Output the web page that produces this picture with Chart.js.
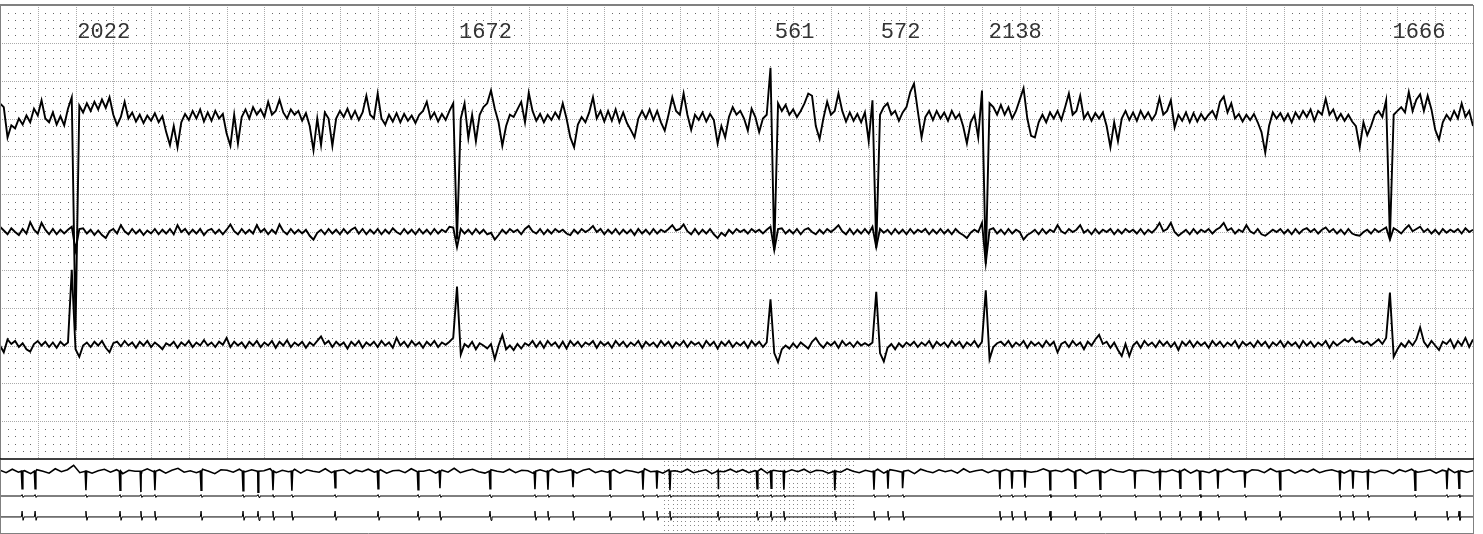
<!DOCTYPE html>
<html>
<head>
<meta charset="utf-8">
<script src="https://cdn.jsdelivr.net/npm/chart.js@4.4.0/dist/chart.umd.min.js"></script>
<style>
  html, body { margin: 0; padding: 0; background: #fff; }
  #wrap { position: relative; width: 1483px; height: 534px; }
  #ecg { position: absolute; left: 0; top: 0; }
  #strip { position: absolute; left: 0; top: 460px; }
</style>
</head>
<body>
<div id="wrap">
  <canvas id="ecg" width="1483" height="460"></canvas>
  <canvas id="strip" width="1483" height="74"></canvas>
</div>
<script>
// ---- main window: 7.8 s of three leads, one sample every 20 ms ----
var stepMs = 20;
var windowMs = 7800;
var firstBeatMs = 388;
// RR intervals written above each beat (ms)
var rrMs = [2022, 1672, 561, 572, 2138, 1666];
// where each lead sits on the paper (mV)
var leadBase = [4.5, 3.0, 1.5];

// lead values in mV (relative to the lead baseline)
var lead1 = [
  0.20, 0.15, -0.25, -0.09, -0.13, 0.0, -0.08, 0.04, -0.05, 0.13,
  0.04, 0.24, 0.0, -0.05, 0.08, -0.08, 0.03, -0.09, 0.13, 0.28,
  -2.8, 0.17, 0.08, 0.2, 0.1, 0.22, 0.12, 0.25, 0.14, 0.28,
  0.05, -0.09, 0.02, 0.22, 0.0, 0.08, -0.04, 0.05, -0.06, 0.04,
  -0.03, 0.07, -0.05, 0.03, -0.18, -0.35, -0.1, -0.38, -0.05, 0.06,
  -0.02, 0.1, 0.0, 0.12, -0.04, 0.08, -0.03, 0.1, 0.0, 0.06,
  -0.2, -0.36, 0.05, -0.33, 0.02, 0.12, 0.0, 0.15, 0.05, 0.12,
  0.02, 0.22, 0.05, 0.1, 0.25, 0.08, 0.0, 0.12, 0.05, 0.1,
  -0.03, 0.07, -0.1, -0.42, 0.0, -0.35, 0.08, 0.0, -0.36, 0.0,
  0.1, 0.02, 0.13, 0.0, 0.1, -0.02, 0.08, 0.3, 0.05, 0.0,
  0.33, 0.0, -0.08, 0.05, -0.04, 0.07, -0.05, 0.06, -0.03, 0.04,
  -0.06, 0.05, 0.1, 0.22, 0.0, 0.08, -0.04, 0.06, -0.02, 0.1,
  0.2, -1.6, 0.0, 0.2, -0.26, 0.05, -0.3, 0.05, 0.15, 0.2,
  0.37, 0.13, -0.05, -0.36, -0.1, 0.05, 0.02, 0.12, 0.22, -0.05,
  0.34, 0.1, -0.03, 0.06, -0.05, 0.05, -0.02, 0.08, 0.0, 0.2,
  0.0, -0.25, -0.38, -0.08, 0.02, -0.05, 0.08, 0.28, 0.0, 0.1,
  -0.04, 0.1, -0.03, 0.12, -0.05, 0.08, -0.06, -0.15, -0.25, 0.0,
  0.1, 0.0, 0.12, -0.02, 0.1, -0.05, -0.16, 0.05, 0.28, 0.1,
  0.05, 0.33, 0.05, -0.15, 0.05, -0.02, 0.08, -0.04, 0.06, -0.02,
  -0.33, -0.1, -0.25, 0.02, 0.15, 0.05, 0.1, 0.0, -0.16, 0.13,
  0.02, -0.18, 0.0, 0.05, 0.67, -1.74, 0.2, 0.1, 0.18, 0.05,
  0.12, 0.02, 0.1, 0.2, 0.33, 0.3, -0.1, -0.27, 0.0, 0.22,
  0.05, 0.1, 0.33, 0.1, -0.04, 0.08, -0.03, 0.06, -0.05, 0.08,
  -0.3, 0.24, -1.71, 0.05, 0.15, 0.2, 0.05, 0.1, -0.03, 0.08,
  0.15, 0.35, 0.46, 0.1, -0.25, 0.02, 0.1, -0.02, 0.1, 0.0,
  0.08, -0.03, 0.1, 0.0, 0.06, -0.1, -0.33, -0.05, 0.05, -0.25,
  0.37, -1.92, 0.2, 0.15, 0.05, 0.18, 0.05, 0.15, 0.0, 0.1,
  0.25, 0.4, 0.0, -0.23, -0.25, -0.05, 0.05, -0.05, 0.08, 0.0,
  0.1, -0.02, 0.15, 0.33, 0.05, 0.1, 0.3, 0.0, 0.08, -0.03,
  0.07, 0.0, 0.08, -0.1, -0.38, -0.05, -0.3, 0.0, 0.1, -0.02,
  0.08, -0.03, 0.1, 0.0, 0.08, -0.02, 0.06, 0.27, 0.05, 0.1,
  0.24, -0.12, 0.05, -0.03, 0.08, -0.05, 0.07, -0.04, 0.06, -0.02,
  0.05, 0.1, 0.0, 0.22, 0.29, 0.08, 0.2, 0.0, 0.06, -0.04,
  0.05, -0.02, 0.06, -0.05, -0.18, -0.45, -0.1, 0.08, 0.0, 0.07,
  -0.03, 0.06, -0.05, 0.08, 0.0, 0.1, 0.02, 0.12, -0.03, 0.1,
  0.05, 0.26, 0.05, 0.12, -0.02, 0.06, -0.03, 0.05, -0.04, -0.1,
  -0.38, -0.05, -0.22, -0.1, 0.05, 0.1, 0.02, 0.24, -1.59, 0.05,
  0.1, 0.15, 0.08, 0.35, 0.1, 0.25, 0.32, 0.1, 0.3, 0.12,
  -0.15, -0.28, -0.05, 0.05, -0.02, 0.1, 0.0, 0.2, 0.02, 0.1, -0.1
];

var lead2 = [
  0.07, 0.02, -0.03, 0.05, 0.0, -0.04, 0.04, -0.02, 0.13, 0.03,
  -0.02, 0.12, 0.03, -0.03, 0.04, -0.03, 0.03, -0.02, 0.03, 0.07,
  -0.24, 0.04, 0.05, -0.02, 0.03, -0.04, 0.02, -0.04, -0.08, 0.01,
  0.04, -0.02, 0.09, 0.01, -0.03, 0.04, -0.02, 0.03, -0.04, 0.02,
  -0.02, 0.04, -0.03, 0.03, -0.02, 0.04, -0.03, 0.09, 0.0, 0.04,
  -0.03, 0.03, -0.02, 0.04, -0.04, 0.02, 0.04, -0.02, 0.03, -0.03,
  0.03, 0.1, 0.01, -0.03, 0.04, -0.02, 0.03, -0.02, 0.09, 0.0,
  0.04, -0.03, 0.03, -0.02, 0.1, 0.01, -0.03, 0.04, -0.02, 0.03,
  -0.02, 0.03, -0.05, -0.1, -0.01, 0.03, -0.03, 0.04, -0.02, 0.03,
  -0.03, 0.04, -0.02, 0.03, 0.06, -0.02, 0.04, -0.03, 0.03, -0.02,
  0.04, -0.03, 0.03, -0.02, 0.05, 0.0, -0.03, 0.04, -0.02, 0.03,
  -0.03, 0.04, -0.02, 0.03, -0.03, 0.04, -0.02, 0.03, 0.0, 0.07,
  0.06, -0.2, 0.04, -0.02, 0.03, -0.03, 0.04, -0.02, 0.03, -0.03,
  -0.01, -0.1, -0.04, 0.03, -0.02, 0.04, 0.0, 0.03, -0.03, 0.04,
  0.08, 0.01, -0.02, 0.04, -0.03, 0.03, -0.02, 0.04, 0.0, 0.03,
  -0.02, -0.04, 0.03, -0.02, 0.04, 0.0, 0.03, 0.08, 0.0, 0.04,
  -0.03, 0.03, -0.02, 0.04, -0.03, 0.03, -0.02, 0.03, -0.04, 0.04,
  -0.02, 0.03, -0.03, 0.04, -0.02, 0.03, 0.0, 0.04, 0.09, 0.02,
  0.04, 0.1, 0.01, -0.03, 0.04, -0.03, 0.03, -0.02, 0.04, -0.03,
  -0.08, -0.01, -0.05, 0.03, -0.02, 0.04, 0.0, 0.03, -0.02, 0.04,
  0.0, 0.03, -0.02, 0.03, 0.07, -0.24, 0.04, 0.05, -0.02, 0.03,
  -0.02, 0.04, -0.03, 0.03, 0.05, 0.0, -0.03, 0.03, -0.02, 0.04,
  0.0, 0.04, 0.09, 0.01, -0.03, 0.04, -0.03, 0.03, -0.02, 0.04,
  -0.02, 0.07, -0.2, 0.04, -0.01, 0.03, -0.03, 0.04, -0.02, 0.03,
  -0.03, 0.04, -0.02, 0.03, 0.0, 0.04, -0.03, 0.03, -0.02, 0.04,
  -0.02, 0.03, -0.03, 0.04, -0.01, -0.04, -0.08, -0.01, 0.03, 0.0,
  0.12, -0.41, 0.03, 0.05, -0.02, 0.03, -0.03, 0.04, -0.02, 0.03,
  0.0, -0.1, -0.04, -0.01, 0.03, -0.03, 0.04, -0.02, 0.03, 0.0,
  0.09, 0.01, -0.02, 0.04, 0.0, 0.03, 0.09, -0.01, 0.03, -0.03,
  0.04, -0.02, 0.03, 0.0, 0.04, -0.03, 0.03, -0.02, 0.04, 0.0,
  0.03, -0.02, 0.04, -0.03, 0.03, -0.01, 0.04, 0.12, 0.01, 0.04,
  0.12, 0.0, -0.05, -0.01, 0.03, -0.03, 0.04, -0.02, 0.03, 0.0,
  0.04, -0.02, 0.03, 0.06, 0.12, 0.02, 0.05, -0.02, 0.03, 0.0,
  0.09, 0.01, -0.02, 0.04, -0.03, -0.05, -0.01, 0.03, 0.0, 0.04,
  -0.02, 0.03, -0.03, 0.04, -0.02, 0.03, 0.05, 0.0, 0.04, -0.02,
  0.03, 0.06, 0.0, 0.04, -0.02, 0.03, -0.03, 0.04, -0.02, -0.04,
  -0.05, 0.0, 0.03, -0.02, 0.04, 0.0, 0.03, 0.06, -0.1, 0.05,
  0.02, -0.02, 0.04, 0.09, 0.01, 0.04, 0.07, 0.0, 0.04, -0.02,
  0.03, -0.03, 0.04, -0.01, 0.03, 0.0, 0.04, -0.02, 0.05, 0.0, 0.03
];

var lead3 = [
  0.0, -0.09, 0.08, 0.02, 0.06, -0.02, 0.03, -0.05, -0.08, 0.02,
  0.06, 0.0, 0.05, -0.02, 0.04, -0.03, 0.05, 0.0, 0.04, 1.0,
  -0.05, -0.15, 0.0, 0.04, -0.02, 0.05, 0.0, 0.06, -0.03, -0.09,
  0.03, 0.05, -0.01, 0.06, 0.0, 0.04, -0.03, 0.05, 0.0, 0.06,
  -0.02, 0.04, 0.0, -0.05, 0.03, 0.0, 0.05, -0.03, 0.04, 0.0,
  0.06, -0.02, 0.04, 0.0, 0.07, 0.0, 0.04, -0.02, 0.05, 0.01,
  0.1, -0.02, 0.05, 0.0, 0.04, -0.03, 0.05, 0.0, 0.06, -0.02,
  0.04, 0.0, 0.06, -0.03, 0.05, 0.0, 0.07, -0.02, 0.04, 0.0,
  0.05, -0.03, 0.04, 0.0, 0.06, 0.12, 0.02, 0.06, -0.02, 0.05,
  0.0, 0.04, -0.04, 0.05, 0.0, 0.06, -0.03, 0.04, 0.0, 0.05,
  -0.02, 0.06, 0.0, 0.04, -0.03, 0.1, 0.0, 0.05, -0.02, 0.06,
  0.0, 0.04, -0.03, 0.05, 0.0, 0.06, -0.02, 0.04, 0.01, 0.05,
  0.1, 0.78, -0.12, 0.02, -0.02, 0.05, -0.05, 0.03, 0.0, -0.04,
  0.02, -0.18, 0.0, 0.14, -0.05, 0.0, -0.06, 0.02, -0.04, 0.03,
  0.0, 0.06, -0.02, 0.05, -0.03, 0.06, 0.0, 0.04, -0.03, 0.05,
  -0.04, 0.06, 0.0, 0.05, -0.02, 0.04, 0.01, 0.06, -0.03, 0.05,
  0.0, 0.04, -0.03, 0.06, 0.0, 0.05, -0.02, 0.04, 0.0, 0.06,
  -0.03, 0.05, 0.0, 0.04, -0.02, 0.06, 0.0, 0.05, -0.03, 0.04,
  0.0, 0.06, -0.02, 0.05, 0.01, 0.04, -0.03, 0.06, 0.0, 0.05,
  -0.04, 0.05, 0.0, 0.06, -0.02, 0.04, 0.0, 0.05, -0.03, 0.06,
  0.0, 0.05, -0.02, 0.04, 0.61, -0.1, -0.22, -0.05, 0.0, -0.04,
  0.03, -0.03, 0.04, 0.0, -0.04, 0.05, 0.1, 0.02, -0.03, 0.04,
  0.0, 0.05, -0.03, 0.06, 0.0, 0.04, -0.02, 0.05, 0.0, 0.03,
  0.0, 0.04, 0.71, -0.1, -0.21, -0.03, 0.02, -0.05, 0.03, -0.02,
  0.04, 0.0, 0.05, -0.02, 0.04, 0.0, 0.06, -0.03, 0.05, 0.0,
  0.04, -0.02, 0.06, 0.0, 0.05, -0.03, 0.04, 0.0, 0.06, -0.02,
  0.05, 0.73, -0.18, -0.02, 0.03, 0.05, 0.0, 0.06, -0.02, 0.04,
  0.0, 0.06, -0.03, 0.05, 0.0, 0.04, -0.02, 0.06, 0.0, 0.05,
  -0.09, 0.02, 0.05, -0.02, 0.06, 0.0, 0.04, -0.05, 0.05, 0.0,
  0.08, 0.14, 0.02, 0.05, -0.03, 0.04, -0.06, -0.14, 0.02, -0.14,
  0.0, 0.05, -0.03, 0.06, 0.0, 0.04, -0.02, 0.06, 0.0, 0.05,
  -0.02, 0.04, -0.06, 0.05, 0.0, 0.06, -0.02, 0.05, 0.0, 0.04,
  -0.03, 0.06, 0.0, 0.05, -0.02, 0.04, 0.0, 0.06, -0.03, 0.05,
  0.0, 0.04, -0.02, 0.06, 0.0, 0.05, -0.03, 0.04, 0.0, 0.06,
  -0.02, 0.05, 0.0, 0.04, -0.03, 0.06, 0.0, 0.05, -0.02, 0.04,
  0.0, 0.06, -0.03, 0.05, 0.0, 0.04, 0.08, 0.05, 0.1, 0.04,
  0.06, 0.02, 0.05, 0.0, 0.04, 0.08, 0.02, 0.1, 0.7, -0.15,
  -0.05, 0.03, -0.02, 0.06, 0.0, 0.08, 0.24, 0.05, -0.02, 0.06,
  0.0, -0.06, 0.05, 0.02, 0.08, -0.03, 0.06, 0.0, 0.1, -0.02, 0.08
];

// ---- overview strip: 60 s, window of the main view highlighted ----
var stripSec = 60;
var stripWindow = [27.05, 34.85];
var stripBase = [12.7, 7.6, 3.3];
// beat times on the strip (s) and depth of the top-trace spike
var stripBeats = [0.90, 1.43, 3.50, 4.89, 5.74, 6.31, 8.19, 9.90, 10.51, 11.12,
  11.89, 13.65, 15.40, 17.03, 17.92, 19.96, 21.79, 22.32, 23.34, 24.85,
  26.19, 26.76, 27.29, 29.25, 30.84, 31.41, 31.93, 34.01, 35.60, 36.17,
  36.78, 40.73, 41.22, 41.75, 42.77, 43.79, 44.81, 46.23, 47.25, 48.07,
  48.88, 49.61, 50.71, 52.14, 54.58, 55.11, 55.72, 57.64, 58.94, 59.43];
var stripDrop = [3.6, 3.6, 3.9, 3.9, 4.3, 3.9, 3.9, 4.0, 4.3, 3.9,
  4.0, 3.4, 3.6, 3.8, 3.5, 3.6, 3.7, 3.8, 3.3, 3.7,
  3.8, 3.6, 3.9, 3.7, 3.6, 3.5, 3.8, 3.9, 3.8, 3.6,
  3.5, 3.7, 3.6, 3.4, 3.8, 3.5, 3.7, 3.6, 3.9, 3.5,
  3.7, 3.6, 3.4, 3.8, 3.9, 3.6, 3.8, 3.9, 3.7, 3.5];
var stripUp = 1.2;
var stripDown = 0.7;
var stripMidTick = 0.3;
// top-trace jitter, every 0.25 s
var stripNoise = [
  0.2,-0.3,0.4,-0.2,0.1,-0.5,0.3,0.0,-0.4,0.5,-0.1,0.3,1.2,-0.3,0.2,-0.4,0.1,0.4,-0.2,0.3,
  -0.5,0.2,0.0,-0.3,0.5,-0.1,0.3,-0.4,0.2,0.6,-0.2,0.1,-0.3,0.4,0.0,-0.5,0.3,0.2,-0.2,0.4,
  -0.1,0.3,-0.4,0.1,0.5,-0.3,0.2,-0.1,0.4,-0.4,0.3,0.0,-0.2,0.5,-0.3,0.1,0.3,-0.5,0.2,-0.1,
  0.4,-0.2,0.3,-0.4,0.1,0.2,-0.3,0.5,-0.1,0.0,0.3,-0.4,0.2,-0.2,0.6,-0.3,0.1,0.4,-0.1,-0.4,
  0.3,0.0,-0.2,0.4,-0.3,0.2,0.1,-0.5,0.3,-0.1,0.4,-0.2,0.0,0.3,-0.4,0.2,0.5,-0.3,0.1,-0.2,
  0.3,-0.4,0.2,0.0,-0.3,0.5,-0.1,0.2,-0.4,0.3,0.1,-0.2,0.4,-0.3,0.0,0.3,-0.5,0.2,-0.1,0.4,
  -0.2,0.3,-0.3,0.1,0.5,-0.4,0.2,0.0,-0.2,0.3,-0.1,0.4,-0.3,0.2,0.1,-0.4,0.3,-0.2,0.5,0.0,
  -0.3,0.2,-0.1,0.4,-0.4,0.3,0.1,-0.2,0.2,-0.5,0.4,0.0,-0.3,0.3,-0.1,0.2,-0.4,0.5,-0.2,0.1,
  0.3,-0.3,0.2,-0.1,0.4,-0.4,0.1,0.3,-0.2,0.0,0.5,-0.3,0.2,-0.1,0.4,-0.2,0.3,-0.5,0.1,0.2,
  -0.3,0.4,0.0,-0.2,0.3,-0.4,0.2,0.1,-0.3,0.5,-0.1,0.3,-0.2,0.4,-0.4,0.2,0.0,-0.3,0.3,-0.1,
  0.4,-0.2,0.1,-0.4,0.3,0.2,-0.3,0.5,-0.1,0.0,0.3,-0.4,0.2,-0.2,0.4,-0.3,0.1,0.3,-0.1,-0.4,
  0.2,0.0,-0.2,0.4,-0.3,0.2,0.1,-0.5,0.3,-0.1,0.4,-0.2,0.0,0.3,-0.4,0.2,0.5,-0.3,0.1,-0.2,
  0.1
];

function leadPoints(vals, base) {
  return vals.map(function (v, i) { return { x: i * stepMs, y: base + v }; });
}

function byX(a, b) { return a.x - b.x; }

function stripTopPoints() {
  var b0 = stripBase[0];
  var pts = stripNoise.map(function (v, i) { return { x: i * 0.25, y: b0 + v }; });
  stripBeats.forEach(function (t, k) {
    pts.push({ x: t - 0.03, y: b0 }, { x: t, y: b0 - stripDrop[k] }, { x: t + 0.03, y: b0 });
  });
  return pts.sort(byX);
}

function stripMidPoints() {
  var b1 = stripBase[1];
  var pts = [{ x: 0, y: b1 }, { x: stripSec, y: b1 }];
  stripBeats.forEach(function (t) {
    pts.push({ x: t - 0.04, y: b1 }, { x: t, y: b1 + stripMidTick }, { x: t + 0.04, y: b1 - stripMidTick }, { x: t + 0.08, y: b1 });
  });
  return pts.sort(byX);
}

function stripLowPoints() {
  var b2 = stripBase[2];
  var pts = [{ x: 0, y: b2 }, { x: stripSec, y: b2 }];
  stripBeats.forEach(function (t) {
    pts.push({ x: t - 0.03, y: b2 }, { x: t, y: b2 + stripUp }, { x: t + 0.04, y: b2 - stripDown }, { x: t + 0.08, y: b2 });
  });
  return pts.sort(byX);
}

// ecg paper: minor dots, dotted major lines
var paperGrid = {
  id: 'paperGrid',
  beforeDatasetsDraw: function (chart) {
    var ctx = chart.ctx, a = chart.chartArea;
    var xs = chart.scales.x, ys = chart.scales.y;
    var i, j, px, py;
    ctx.save();
    ctx.fillStyle = '#666';
    for (i = 0; i <= windowMs / 40; i++) {
      if (i % 5 === 0) continue;
      px = Math.round(xs.getPixelForValue(i * 40));
      for (j = 0; j <= 60; j++) {
        if (j % 5 === 0) continue;
        py = Math.round(ys.getPixelForValue(j / 10));
        ctx.fillRect(px, py, 1, 1);
      }
    }
    ctx.strokeStyle = '#aaa';
    ctx.lineWidth = 1;
    ctx.setLineDash([1, 1]);
    ctx.beginPath();
    for (i = 1; i < windowMs / 200; i++) {
      px = Math.round(xs.getPixelForValue(i * 200)) + 0.5;
      ctx.moveTo(px, a.top);
      ctx.lineTo(px, a.bottom);
    }
    for (j = 1; j < 12; j++) {
      py = Math.round(ys.getPixelForValue(j * 0.5)) + 0.5;
      ctx.moveTo(a.left, py);
      ctx.lineTo(a.right, py);
    }
    ctx.stroke();
    ctx.restore();
  },
  afterDraw: function (chart) {
    var ctx = chart.ctx, a = chart.chartArea;
    ctx.save();
    ctx.strokeStyle = '#808080';
    ctx.lineWidth = 2;
    ctx.beginPath();
    ctx.moveTo(a.left, a.top);
    ctx.lineTo(a.right, a.top);
    ctx.stroke();
    ctx.lineWidth = 1;
    ctx.beginPath();
    ctx.moveTo(a.left + 0.5, a.top);
    ctx.lineTo(a.left + 0.5, a.bottom);
    ctx.moveTo(a.right + 0.5, a.top);
    ctx.lineTo(a.right + 0.5, a.bottom);
    ctx.stroke();
    ctx.strokeStyle = '#000';
    ctx.lineWidth = 1.5;
    ctx.beginPath();
    ctx.moveTo(a.left, a.bottom);
    ctx.lineTo(a.right + 1, a.bottom);
    ctx.stroke();
    ctx.restore();
  }
};

// RR values printed next to each beat
var rrLabels = {
  id: 'rrLabels',
  afterDatasetsDraw: function (chart) {
    var ctx = chart.ctx, xs = chart.scales.x, ys = chart.scales.y;
    var t = firstBeatMs;
    ctx.save();
    ctx.font = '22px "Liberation Mono", "DejaVu Sans Mono", monospace';
    ctx.fillStyle = '#333';
    ctx.textAlign = 'left';
    ctx.textBaseline = 'alphabetic';
    rrMs.forEach(function (rr) {
      ctx.fillText(String(rr), xs.getPixelForValue(t) + 4, ys.getPixelForValue(5.56));
      t += rr;
    });
    ctx.restore();
  }
};

var stripFrame = {
  id: 'stripFrame',
  beforeDatasetsDraw: function (chart) {
    var ctx = chart.ctx, a = chart.chartArea, xs = chart.scales.x;
    var x0 = Math.round(xs.getPixelForValue(stripWindow[0]));
    var x1 = Math.round(xs.getPixelForValue(stripWindow[1]));
    ctx.save();
    ctx.fillStyle = '#888';
    for (var px = x0; px <= x1; px += 4.3) {
      for (var py = a.top + 1; py <= a.bottom; py += 4.3) {
        ctx.fillRect(Math.round(px), Math.round(py), 1, 1);
      }
    }
    ctx.restore();
  },
  afterDraw: function (chart) {
    var ctx = chart.ctx, a = chart.chartArea;
    ctx.save();
    ctx.strokeStyle = '#808080';
    ctx.lineWidth = 1;
    ctx.beginPath();
    ctx.moveTo(a.left + 0.5, a.top);
    ctx.lineTo(a.left + 0.5, a.bottom);
    ctx.moveTo(a.right + 0.5, a.top);
    ctx.lineTo(a.right + 0.5, a.bottom + 0.5);
    ctx.moveTo(a.left, a.bottom + 0.5);
    ctx.lineTo(a.right + 1, a.bottom + 0.5);
    ctx.stroke();
    ctx.restore();
  }
};

function trace(points, width) {
  return {
    data: points,
    borderColor: '#000',
    borderWidth: width,
    pointRadius: 0,
    tension: 0,
    fill: false
  };
}

var ecg = new Chart(document.getElementById('ecg'), {
  type: 'line',
  data: {
    datasets: [
      trace(leadPoints(lead1, leadBase[0]), 1.9),
      trace(leadPoints(lead2, leadBase[1]), 1.9),
      trace(leadPoints(lead3, leadBase[2]), 1.9)
    ]
  },
  options: {
    responsive: false,
    animation: false,
    layout: { padding: { left: 0, right: 10, top: 5, bottom: 1 } },
    scales: {
      x: { type: 'linear', min: 0, max: windowMs, display: false },
      y: { type: 'linear', min: 0, max: 6, display: false }
    },
    plugins: { legend: { display: false }, tooltip: { enabled: false } }
  },
  plugins: [paperGrid, rrLabels]
});

var strip = new Chart(document.getElementById('strip'), {
  type: 'line',
  data: {
    datasets: [
      trace(stripTopPoints(), 1.6),
      trace(stripMidPoints(), 1),
      trace(stripLowPoints(), 1)
    ]
  },
  options: {
    responsive: false,
    animation: false,
    layout: { padding: { left: 0, right: 10, top: 0, bottom: 1 } },
    scales: {
      x: { type: 'linear', min: 0, max: stripSec, display: false },
      y: { type: 'linear', min: 0, max: 15, display: false }
    },
    plugins: { legend: { display: false }, tooltip: { enabled: false } }
  },
  plugins: [stripFrame]
});
</script>
</body>
</html>
